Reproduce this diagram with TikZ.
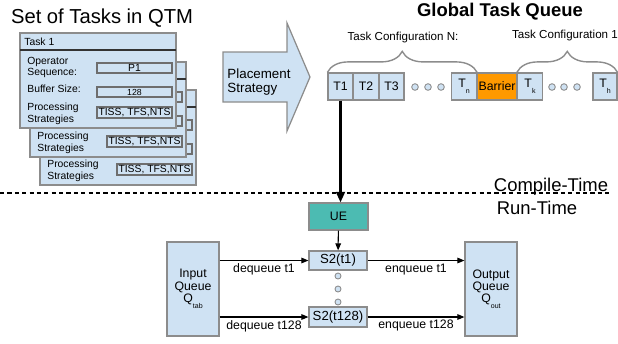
\documentclass[tikz,border=0pt]{standalone}
\usepackage{fontspec}
\setmainfont{Liberation Sans}
\usetikzlibrary{arrows.meta,decorations.pathreplacing}

\definecolor{boxblue}{RGB}{207,226,243}
\definecolor{edgegray}{RGB}{140,140,140}
\definecolor{fieldgray}{RGB}{110,110,110}
\definecolor{barrierorange}{RGB}{255,153,0}
\definecolor{ueteal}{RGB}{76,187,178}

\newcommand{\sz}[1]{\fontsize{#1}{#1}\selectfont}
\newcommand{\lowsub}[1]{\raisebox{-0.9ex}{\sz{4}#1}}

\tikzset{
  card/.style = {draw=edgegray, fill=boxblue, line width=0.7pt},
  field/.style = {draw=fieldgray, fill=boxblue, line width=0.7pt},
  cardtext/.style = {anchor=west, inner sep=0pt, font=\sz{5.9}},
  qbox/.style = {draw=edgegray, fill=boxblue, line width=0.7pt, minimum width=0.5cm, minimum height=0.54cm, inner sep=0pt, font=\sz{7}},
  qdot/.style = {draw=edgegray, fill=boxblue, line width=0.5pt},
  flowbox/.style = {draw=edgegray, fill=boxblue, line width=0.7pt, inner sep=0pt, font=\sz{7.5}},
  flowarrow/.style = {line width=0.6pt, -{Triangle[length=4pt,width=3.2pt]}},
  flowlabel/.style = {below, inner sep=1.5pt, font=\sz{7}},
  bigtitle/.style = {font=\sz{11.5}},
  timetext/.style = {font=\sz{10.5}}
}

\begin{document}
\begin{tikzpicture}[x=0.02cm, y=-0.02cm]
	\useasboundingbox (0,0) rectangle (618,343);
	% set of tasks (back cards first, only the front one shows all of its texts)
	\node[bigtitle] (qtmtitle) at (102,18) {Set of Tasks in QTM};
	\foreach \dx/\dy/\front in {20/57/0, 10/29/0, 0/0/1}{
		\begin{scope}[shift={(\dx,\dy)}]
			\draw[card] (20,33) rectangle (176,128);
			\draw[line width=0.9pt, black!80] (20,50) -- (176,50);
			\draw[field] (97,63) rectangle (172,73);
			\draw[field] (97,87) rectangle (172,97);
			\ifnum\front=1
				\node[cardtext] (tasklabel) at (24,42) {Task 1};
				\node[cardtext] (opname) at (27,62) {Operator};
				\node[cardtext] (opname2) at (27,73) {Sequence:};
				\node[font=\sz{5.9}] (opfield) at (134.5,68) {P1};
				\node[cardtext] (bufname) at (27,89) {Buffer Size:};
				\node[font=\sz{5}] (buffield) at (134.5,92) {128};
			\fi
			\node[cardtext] (procname) at (27,108) {Processing};
			\node[cardtext] (procname2) at (27,120) {Strategies};
			\draw[field] (97,107) rectangle (172,118) node[midway, font=\sz{5.9}] (procfield) {TISS, TFS,NTS};
		\end{scope}
	}
	% placement arrow
	\draw[card] (223,52) -- (287,52) -- (287,23) -- (310,77) -- (287,131) -- (287,102) -- (223,102) -- cycle;
	\node[align=left, font=\sz{7.6}, inner sep=0pt] (placement) at (259,82) {Placement\\Strategy};
	% global task queue
	\node[font=\sz{10.5}\bfseries] (gtqtitle) at (500,12) {Global Task Queue};
	\node[qbox] (T1) at (340.5,86.5) {T1};
	\node[qbox] (T2) at (366,86.5) {T2};
	\node[qbox] (T3) at (391.5,86.5) {T3};
	\node[qbox] (Tn) at (464,86.5) {T\lowsub{n}};
	\node[qbox, fill=barrierorange, minimum width=0.8cm] (barrier) at (497,86.5) {Barrier};
	\node[qbox] (Tk) at (530,86.5) {T\lowsub{k}};
	\node[qbox, minimum width=0.48cm] (Th) at (605,86.5) {T\lowsub{h}};
	\foreach \x in {415,428,441,552,564,577}
		\draw[qdot] (\x,87) circle (3.3);
	\draw[edgegray, line width=0.8pt, decorate, decoration={brace, amplitude=0.42cm}] (T1.north west) -- (Tn.north east);
	\draw[edgegray, line width=0.8pt, decorate, decoration={brace, amplitude=0.42cm}] (Tk.north west) -- (Th.north east);
	\node[font=\sz{6.6}] (confN) at (403,37) {Task Configuration N:};
	\node[font=\sz{6.6}] (conf1) at (565,35) {Task Configuration 1};
	% compile-time / run-time
	\draw[line width=1.1pt, dash pattern=on 2.4pt off 1.8pt] (0,193) -- (610,193);
	\node[timetext, anchor=base] (compile) at (551,191) {Compile-Time};
	\node[timetext] (runtime) at (537,208) {Run-Time};
	% run-time flow
	\node[flowbox, fill=ueteal, minimum width=1.18cm, minimum height=0.54cm, font=\sz{7}, text=black] (UE) at (338.5,216.5) {UE};
	\node[flowbox, minimum width=1.16cm, minimum height=0.38cm] (S2a) at (338,260.5) {S2(t1)};
	\node[flowbox, minimum width=1.16cm, minimum height=0.4cm] (S2b) at (338,317) {S2(t128)};
	\foreach \y in {276,289,302}
		\draw[qdot] (338,\y) circle (3);
	\node[flowbox, minimum width=1.04cm, minimum height=1.88cm, align=center, font=\sz{7}] (input) at (193,289) {Input\\Queue\\Q\lowsub{tab}};
	\node[flowbox, minimum width=1.04cm, minimum height=1.88cm, align=center, font=\sz{7}] (output) at (491,289) {Output\\Queue\\Q\lowsub{out}};
	\draw[line width=1.3pt, -{Triangle[length=6pt,width=5pt]}] (T1.south) -- (T1.south |- UE.north);
	\draw[flowarrow] (UE) -- (S2a);
	\draw[flowarrow] (input.east |- S2a) -- node[flowlabel] {dequeue t1} (S2a.west);
	\draw[flowarrow] (input.east |- S2b) -- node[flowlabel] {dequeue t128} (S2b.west);
	\draw[flowarrow] (S2a.east) -- node[flowlabel] {enqueue t1} (output.west |- S2a);
	\draw[flowarrow] (S2b.east) -- node[flowlabel] {enqueue t128} (output.west |- S2b);
\end{tikzpicture}
\end{document}
